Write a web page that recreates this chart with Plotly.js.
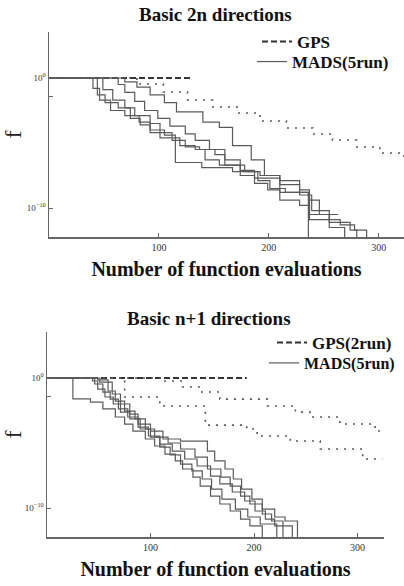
<!DOCTYPE html>
<html>
<head>
<meta charset="utf-8">
<script src="https://cdn.plot.ly/plotly-3.0.1.min.js"></script>
<style>html,body{margin:0;padding:0;background:#fff;}#chart{width:404px;height:586px;}</style>
</head>
<body>
<div id="chart"></div>
<script>
// ---------- DATA (y values are log10 of f) ----------
// Top panel: Basic 2n directions
const topFlatX = [0, 131];
const topFlatLogF = [0, 0];
const topGpsX = [0, 80, 104, 126, 149, 171, 192, 216, 240, 258, 280, 301, 323];
const topGpsLogF = [0, -0.46, -1.08, -1.69, -2.23, -2.69, -3.31, -3.85, -4.31, -4.77, -5.31, -5.77, -6.08];
const topMadsAX = [0, 40, 46, 56, 69, 82, 92, 105, 115, 139, 167, 192, 210, 228, 237, 246, 263];
const topMadsALogF = [0, -0.8, -1.7, -2.5, -2.9, -3.4, -4, -4.4, -6.5, -6.9, -7.2, -7.5, -7.9, -8.6, -9.4, -10.5, -10.5];
const topMadsBX = [0, 44, 51, 63, 74, 83, 92, 101, 119, 133, 142, 155, 174, 187, 199, 210, 228, 237, 255, 269];
const topMadsBLogF = [0, -1.3, -1.9, -2.3, -3.1, -3.6, -4.2, -4.6, -5.2, -5.5, -6.3, -6.7, -7.5, -8.1, -8.6, -9.4, -9.8, -10.9, -11.5, -13];
const topMadsCX = [0, 49, 58, 69, 78, 92, 101, 112, 124, 137, 151, 160, 178, 190, 201, 215, 236];
const topMadsCLogF = [0, -0.9, -1.7, -2.3, -2.9, -3.5, -4.2, -4.8, -5.3, -5.5, -5.9, -6.7, -7.2, -7.9, -8.5, -8.8, -13];
const topMadsDX = [0, 63, 69, 78, 87, 99, 110, 124, 133, 146, 160, 174, 187, 210, 228, 237, 255, 274, 280];
const topMadsDLogF = [0, -0.5, -1.1, -1.8, -2.5, -3.1, -3.7, -4.3, -4.8, -5.5, -6.3, -7.1, -7.7, -8.2, -9, -10.5, -11.1, -11.7, -13];
const topMadsEX = [0, 69, 80, 92, 105, 116, 140, 155, 167, 184, 196, 210, 236, 239, 255, 265, 278, 289];
const topMadsELogF = [0, -0.3, -0.7, -1.3, -1.9, -2.6, -3.4, -3.8, -5.2, -6.3, -7.5, -8.8, -9, -10.2, -10.9, -11.3, -11.7, -13];

// Bottom panel: Basic n+1 directions
const botFlatX = [0, 193];
const botFlatLogF = [0, 0];
const botGps1X = [0, 112, 131, 148, 167, 213, 240, 254, 283, 317, 325.6];
const botGps1LogF = [0, -0.23, -0.69, -1.08, -1.62, -2.15, -2.62, -3, -3.54, -4.08, -4.08];
const botGps2X = [0, 75, 109, 153, 193, 203, 235, 264, 305, 324];
const botGps2LogF = [0, -1.46, -2.15, -3.62, -3.92, -4.46, -4.85, -5.46, -6.23, -6.23];
const botMadsAX = [0, 25, 42, 54, 66, 75, 83, 95, 104, 114, 124, 131, 141, 148, 158, 167, 177, 187, 196, 208];
const botMadsALogF = [0, -1.6, -1.85, -2.38, -3, -3.54, -4.08, -4.69, -5.23, -5.85, -6.38, -7, -7.62, -8.31, -9.08, -9.69, -10.23, -10.85, -11.38, -13];
const botMadsBX = [0, 44, 49, 56, 64, 71, 80, 90, 100, 109, 119, 129, 140, 150, 159, 169, 182, 194, 206, 222];
const botMadsBLogF = [0, -0.23, -0.85, -1.46, -2, -2.62, -3.15, -3.92, -4.54, -5.31, -5.92, -6.62, -7.15, -7.77, -8.54, -9.31, -10.08, -10.69, -11.23, -13];
const botMadsCX = [0, 46, 54, 61, 69, 78, 88, 98, 109, 121, 133, 145, 158, 167, 179, 191, 201, 211, 220, 228];
const botMadsCLogF = [0, -0.46, -1.08, -1.62, -2.38, -3, -3.77, -4.46, -5.08, -5.62, -6.23, -6.77, -7.54, -8.15, -8.77, -9.46, -10.23, -10.85, -11.38, -13];
const botMadsDX = [0, 49, 59, 66, 75, 85, 95, 104, 117, 129, 143, 155, 168, 177, 187, 196, 208, 217, 228, 237];
const botMadsDLogF = [0, -0.15, -1, -1.77, -2.54, -3.15, -3.92, -4.54, -5, -5.46, -6.08, -7, -7.62, -8.31, -9.08, -9.69, -10.46, -11, -11.38, -13];
const botMadsEX = [0, 51, 63, 71, 80, 88, 100, 112, 129, 155, 162, 172, 180, 188, 198, 208, 220, 230, 242];
const botMadsELogF = [0, -0.31, -1.23, -2, -2.77, -3.54, -4.08, -4.69, -4.85, -5.62, -6.38, -7, -7.77, -8.54, -9.31, -10.08, -10.69, -11, -13];

const xTickVals = [100, 200, 300];
const xTickText = ['100', '200', '300'];
const yTickVals = [0, -1.4, -10];
const yTickText = ['10<sup>0</sup>', ' ', '10<sup>\u221210</sup>'];

const topTitle = 'Basic 2n directions';
const botTitle = 'Basic n+1 directions';
const xTitle = 'Number of function evaluations';
const yTitle = 'f';

// ---------- STYLE ----------
const serif = 'Liberation Serif, Times New Roman, serif';
const madsLine = {color: '#5a5a5a', width: 1.2, shape: 'hv'};
const gpsDotLine = {color: '#555', width: 1.6, dash: '2px,6px', shape: 'hv'};
const flatLine = {color: '#333', width: 2, dash: '6px,3px'};

function mads(x, y, xa, ya, lg, show) {
  return {x: x, y: y, xaxis: xa, yaxis: ya, mode: 'lines', line: madsLine,
          name: 'MADS(5run)', legend: lg, showlegend: show, hoverinfo: 'skip'};
}

const traces = [
  {x: topFlatX, y: topFlatLogF, xaxis: 'x', yaxis: 'y', mode: 'lines', line: flatLine, name: 'GPS', legend: 'legend', showlegend: true},
  {x: topGpsX, y: topGpsLogF, xaxis: 'x', yaxis: 'y', mode: 'lines', line: gpsDotLine, name: 'GPS', legend: 'legend', showlegend: false},
  mads(topMadsAX, topMadsALogF, 'x', 'y', 'legend2', true),
  mads(topMadsBX, topMadsBLogF, 'x', 'y', 'legend2', false),
  mads(topMadsCX, topMadsCLogF, 'x', 'y', 'legend2', false),
  mads(topMadsDX, topMadsDLogF, 'x', 'y', 'legend2', false),
  mads(topMadsEX, topMadsELogF, 'x', 'y', 'legend2', false),
  {x: botFlatX, y: botFlatLogF, xaxis: 'x2', yaxis: 'y2', mode: 'lines', line: flatLine, name: 'GPS(2run)', legend: 'legend3', showlegend: true},
  {x: botGps1X, y: botGps1LogF, xaxis: 'x2', yaxis: 'y2', mode: 'lines', line: gpsDotLine, name: 'GPS(2run)', legend: 'legend3', showlegend: false},
  {x: botGps2X, y: botGps2LogF, xaxis: 'x2', yaxis: 'y2', mode: 'lines', line: gpsDotLine, name: 'GPS(2run)', legend: 'legend3', showlegend: false},
  mads(botMadsAX, botMadsALogF, 'x2', 'y2', 'legend4', true),
  mads(botMadsBX, botMadsBLogF, 'x2', 'y2', 'legend4', false),
  mads(botMadsCX, botMadsCLogF, 'x2', 'y2', 'legend4', false),
  mads(botMadsDX, botMadsDLogF, 'x2', 'y2', 'legend4', false),
  mads(botMadsEX, botMadsELogF, 'x2', 'y2', 'legend4', false)
];

function xAxis(domain, range, anchor) {
  return {domain: domain, range: range, anchor: anchor, showline: true, linecolor: '#666', linewidth: 1.5,
          showgrid: false, zeroline: false, ticks: 'inside', ticklen: 4, tickcolor: '#666',
          tickvals: xTickVals, ticktext: xTickText, tickfont: {family: serif, size: 10, color: '#333'},
          title: {text: xTitle, font: {family: serif, size: 20, color: '#111', weight: 'bold'}, standoff: 10}};
}
function yAxis(domain, anchor) {
  return {domain: domain, range: [-12.23, 3.54], anchor: anchor, showline: true, linecolor: '#666', linewidth: 1.5,
          showgrid: false, zeroline: false, ticks: 'inside', ticklen: 4, tickcolor: '#666',
          tickvals: yTickVals, ticktext: yTickText, tickfont: {family: serif, size: 9, color: '#333'},
          title: {text: yTitle, font: {family: serif, size: 24, color: '#222'}, standoff: 6}};
}

function legendAt(xPx, yPx, size) {
  return {bgcolor: 'rgba(0,0,0,0)', borderwidth: 0, xanchor: 'left', yanchor: 'top',
          x: xPx / 404, y: 1 - yPx / 586,
          font: {family: serif, size: size, color: '#111', weight: 'bold'}, tracegroupgap: 0, itemwidth: 30};
}

const layout = {
  width: 404, height: 586,
  margin: {l: 0, r: 0, t: 0, b: 0, autoexpand: false},
  paper_bgcolor: '#fff', plot_bgcolor: '#fff',
  xaxis: xAxis([49/404, 1], [0, 323], 'y'),
  yaxis: yAxis([1 - 237/586, 1 - 32/586], 'x'),
  xaxis2: xAxis([47/404, 384/404], [0, 325.6], 'y2'),
  yaxis2: yAxis([1 - 537/586, 1 - 332/586], 'x2'),
  legend: legendAt(257, 24, 17),
  legend2: legendAt(252, 44, 17),
  legend3: legendAt(272, 325, 17),
  legend4: legendAt(264, 346, 16),
  annotations: [
    {text: topTitle, xref: 'paper', yref: 'paper', x: 215/404, y: 1 - 14/586, xanchor: 'center', yanchor: 'middle', showarrow: false,
     font: {family: serif, size: 19, color: '#111', weight: 'bold'}},
    {text: botTitle, xref: 'paper', yref: 'paper', x: 209/404, y: 1 - 318/586, xanchor: 'center', yanchor: 'middle', showarrow: false,
     font: {family: serif, size: 19, color: '#111', weight: 'bold'}}
  ]
};

Plotly.newPlot('chart', traces, layout, {displayModeBar: false, staticPlot: true});
</script>
</body>
</html>
